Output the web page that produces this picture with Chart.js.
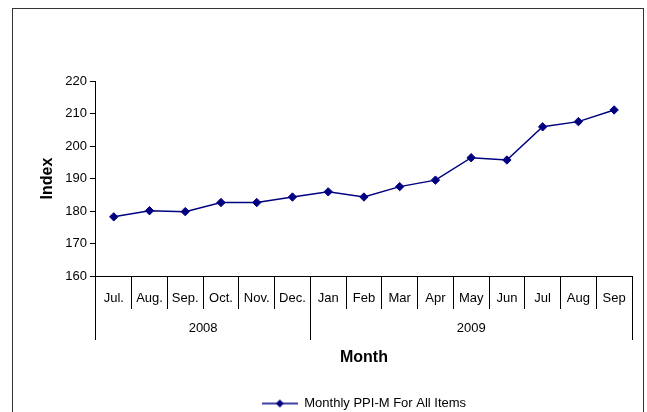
<!DOCTYPE html>
<html>
<head>
<meta charset="utf-8">
<script src="https://cdn.jsdelivr.net/npm/chart.js@4/dist/chart.umd.min.js"></script>
<style>
  body { margin: 0; background: #fff; overflow: hidden; }
  #frame { position: absolute; left: 12px; top: 8px; width: 632px; height: 420px;
           border: 1.5px solid #333; box-sizing: border-box; }
  #c { position: absolute; left: 13px; top: 9px; }
</style>
</head>
<body>
<div id="frame"></div>
<canvas id="c" width="628" height="414"></canvas>
<script>
// month labels and index values
var months = ['Jul.', 'Aug.', 'Sep.', 'Oct.', 'Nov.', 'Dec.', 'Jan', 'Feb', 'Mar', 'Apr', 'May', 'Jun', 'Jul', 'Aug', 'Sep'];
var ppiValues = [178.2, 180.1, 179.8, 182.6, 182.6, 184.3, 185.9, 184.3, 187.5, 189.5, 196.4, 195.7, 205.9, 207.5, 211.1];
var years = ['2008', '2009'];
var yearFirstMonth = [0, 6];
var yTicks = [160, 170, 180, 190, 200, 210, 220];

var navy = '#000080';
var font = 'Liberation Sans, Arial, sans-serif';

// year group edges and centres in month-index units
var yearEdges = [], yearCentres = [];
years.forEach(function(y, i){
    var start = yearFirstMonth[i],
        end = i + 1 < years.length ? yearFirstMonth[i + 1] : months.length;
    yearEdges.push(start - 0.5);
    yearCentres.push((start + end - 1) / 2);
});
yearEdges.push(months.length - 0.5);

// legend marker: line with a diamond
var marker = document.createElement('canvas');
marker.width = 36; marker.height = 12;
(function(){
    var m = marker.getContext('2d');
    m.strokeStyle = navy; m.lineWidth = 1.5;
    m.beginPath(); m.moveTo(0, 6); m.lineTo(36, 6); m.stroke();
    m.fillStyle = navy;
    m.beginPath(); m.moveTo(18, 2); m.lineTo(22, 6); m.lineTo(18, 10); m.lineTo(14, 6); m.closePath(); m.fill();
})();

new Chart(document.getElementById('c'), {
    type: 'line',
    data: {
        labels: months,
        datasets: [{
            label: 'Monthly PPI-M For All Items',
            data: ppiValues,
            borderColor: navy,
            backgroundColor: navy,
            borderWidth: 1.5,
            pointStyle: 'rectRot',
            pointRadius: 4.2,
            pointBackgroundColor: navy,
            pointBorderColor: navy,
            pointBorderWidth: 1,
            lineTension: 0,
            fill: false
        }]
    },
    options: {
        responsive: false,
        animation: false,
        devicePixelRatio: 1,
        layout: { padding: { left: 22, right: 9, top: 72, bottom: 3 } },
        plugins: {
            tooltip: { enabled: false },
            legend: {
                position: 'bottom',
                fullSize: false,
                labels: {
                    color: '#000',
                    font: { family: font, size: 13 },
                    usePointStyle: true,
                    pointStyleWidth: 36,
                    padding: 6,
                    generateLabels: function(chart){
                        return chart.data.datasets.map(function(ds, i){
                            return { text: ds.label, pointStyle: marker, datasetIndex: i,
                                     fillStyle: navy, strokeStyle: navy, lineWidth: 0, fontColor: '#000' };
                        });
                    }
                }
            }
        },
        scales: {
            y: {
                min: 160, max: 220,
                afterBuildTicks: function(axis){ axis.ticks = yTicks.map(function(v){ return { value: v }; }); },
                grid: { drawOnChartArea: false, tickLength: 6, color: '#000' },
                border: { color: '#000' },
                ticks: { color: '#000', font: { family: font, size: 13 }, padding: 3 },
                title: { display: true, text: 'Index', color: '#000',
                         font: { family: font, size: 16, weight: 'bold' }, padding: { top: 3, bottom: 5 } }
            },
            x: {
                type: 'category',
                position: 'bottom',
                weight: 0,
                offset: true,
                afterFit: function(axis){ axis.height = 33; },
                grid: { offset: true, drawOnChartArea: false, tickLength: 33, color: '#000' },
                border: { color: '#000' },
                ticks: { color: '#000', font: { family: font, size: 13 }, padding: -18.5,
                         autoSkip: false, maxRotation: 0 }
            },
            years: {
                type: 'linear',
                position: 'bottom',
                weight: 1,
                min: -0.5,
                max: months.length - 0.5,
                afterBuildTicks: function(axis){
                    axis.ticks = yearEdges.concat(yearCentres).sort(function(a, b){ return a - b; })
                        .map(function(v){ return { value: v }; });
                },
                afterFit: function(axis){ axis.height = 82; },
                grid: {
                    drawOnChartArea: false, tickLength: 31,
                    color: function(ctx){
                        return ctx.tick && yearEdges.indexOf(ctx.tick.value) >= 0 ? '#000' : 'rgba(0,0,0,0)';
                    }
                },
                border: { display: false },
                ticks: {
                    color: '#000', font: { family: font, size: 13 }, padding: -19,
                    autoSkip: false, maxRotation: 0,
                    callback: function(v){
                        var i = yearCentres.indexOf(v);
                        return i >= 0 ? years[i] : '';
                    }
                },
                title: { display: true, text: 'Month', color: '#000',
                         font: { family: font, size: 16, weight: 'bold' }, padding: { top: 0, bottom: 24 } }
            }
        }
    }
});
</script>
</body>
</html>
